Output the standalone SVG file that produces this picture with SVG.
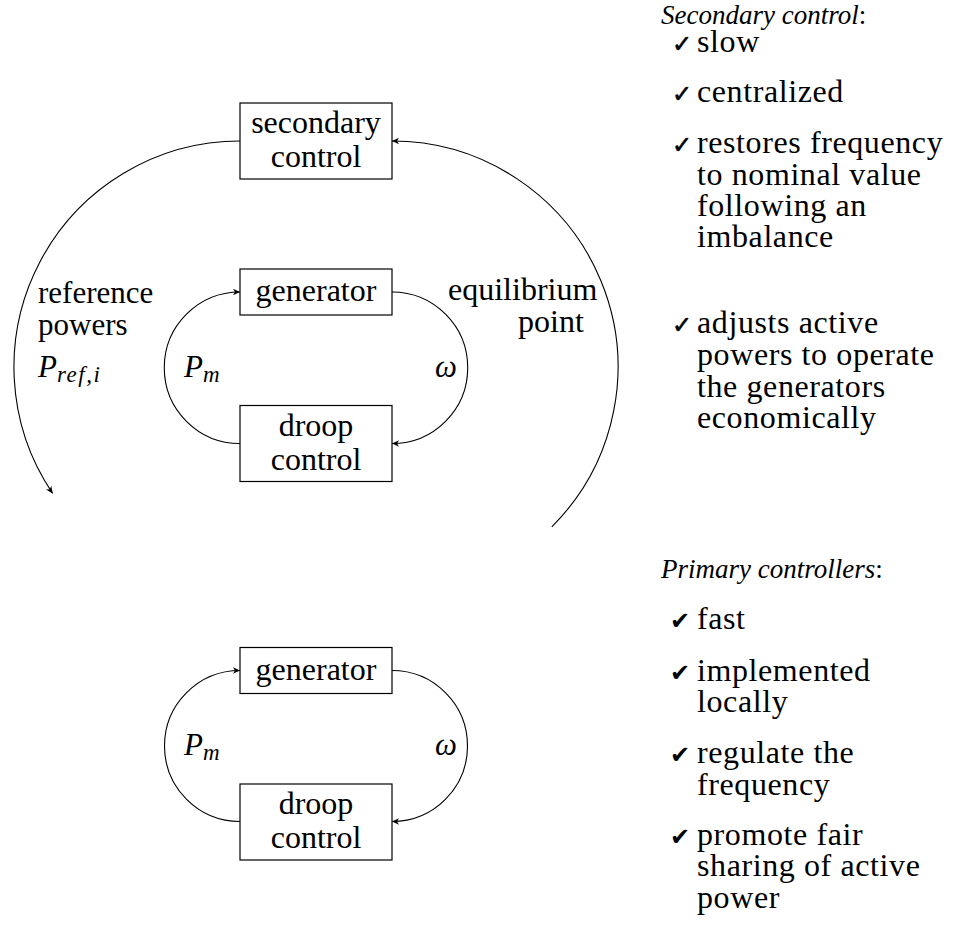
<svg xmlns="http://www.w3.org/2000/svg" width="956" height="926" viewBox="0 0 956 926">
<style>
text{font-family:"Liberation Serif","Times New Roman",serif;fill:#000}
.bx{font-size:32px;text-anchor:middle}
.lb{font-size:31px}
.eq{font-size:32px}
.m{font-size:31px;font-style:italic}
.sub{font-size:23px;font-style:italic}
.li{font-size:32px;letter-spacing:0.6px}
.hd{font-size:27px;font-style:italic}
.ck{font-family:"DejaVu Sans",sans-serif;font-size:24px;stroke:#000;stroke-width:0.6}
.ck2{font-family:"DejaVu Sans",sans-serif;font-size:24px}
rect{fill:#fff;stroke:#000;stroke-width:1.2}
.c{fill:none;stroke:#000;stroke-width:1.1}
</style>
<defs>
<marker id="ah" viewBox="-8 -4 9 8" refX="0" refY="0" markerWidth="9" markerHeight="8" orient="auto" markerUnits="userSpaceOnUse">
<path d="M0,0 L-7,-3.2 L-5,0 L-7,3.2 Z" fill="#000"/>
</marker>
</defs>
<g id="connectors">
<path class="c" d="M240,141 A226,226 0 0 0 52.6,493.4" marker-end="url(#ah)"/>
<path class="c" d="M551.8,526.8 A226,226 0 0 0 392,141" marker-end="url(#ah)"/>
<path class="c" d="M240,443.5 A75.75,75.75 0 0 1 240,292" marker-end="url(#ah)"/>
<path class="c" d="M392,292 A75.75,75.75 0 0 1 392,443.5" marker-end="url(#ah)"/>
<path class="c" d="M240,821.5 A75.5,75.5 0 0 1 240,670.5" marker-end="url(#ah)"/>
<path class="c" d="M392,670.5 A75.5,75.5 0 0 1 392,821.5" marker-end="url(#ah)"/>
</g>
<g id="secondary">
<rect x="240" y="103" width="152" height="76"/>
<text class="bx" x="316" y="133">secondary</text>
<text class="bx" x="316" y="167">control</text>
</g>
<g id="generator1">
<rect x="240" y="269" width="152" height="46"/>
<text class="bx" x="316" y="301">generator</text>
</g>
<g id="droop1">
<rect x="240" y="405.5" width="152" height="76"/>
<text class="bx" x="316" y="435.5">droop</text>
<text class="bx" x="316" y="469.5">control</text>
</g>
<g id="generator2">
<rect x="240" y="647.5" width="152" height="46"/>
<text class="bx" x="316" y="680">generator</text>
</g>
<g id="droop2">
<rect x="240" y="784" width="152" height="76"/>
<text class="bx" x="316" y="814">droop</text>
<text class="bx" x="316" y="848">control</text>
</g>
<g id="labels">
<text class="lb" x="38" y="303">reference</text>
<text class="lb" x="38" y="335">powers</text>
<text class="m" x="38" y="377">P<tspan class="sub" dy="5" letter-spacing="1.5">ref,i</tspan></text>
<text class="eq" x="448" y="300">equilibrium</text>
<text class="eq" x="518" y="332">point</text>
<text class="m" x="184" y="377">P<tspan class="sub" dy="5">m</tspan></text>
<text class="m" x="435" y="377">ω</text>
<text class="m" x="184" y="755">P<tspan class="sub" dy="5">m</tspan></text>
<text class="m" x="435" y="755">ω</text>
</g>
<g id="secondary-list">
<text class="hd" x="661" y="24">Secondary control<tspan font-style="normal">:</tspan></text>
<text class="ck" x="672" y="52">✓</text><text class="li" x="697" y="52">slow</text>
<text class="ck" x="672" y="102">✓</text><text class="li" x="697" y="102">centralized</text>
<text class="ck" x="672" y="153">✓</text><text class="li" x="697" y="153">restores frequency</text>
<text class="li" x="697" y="185">to nominal value</text>
<text class="li" x="697" y="216">following an</text>
<text class="li" x="697" y="247">imbalance</text>
<text class="ck" x="672" y="333">✓</text><text class="li" x="697" y="333">adjusts active</text>
<text class="li" x="697" y="365">powers to operate</text>
<text class="li" x="697" y="397">the generators</text>
<text class="li" x="697" y="428">economically</text>
</g>
<g id="primary-list">
<text class="hd" x="661" y="578">Primary controllers<tspan font-style="normal">:</tspan></text>
<text class="ck2" x="670" y="629">✔</text><text class="li" x="697" y="629">fast</text>
<text class="ck2" x="670" y="681">✔</text><text class="li" x="697" y="681">implemented</text>
<text class="li" x="697" y="712">locally</text>
<text class="ck2" x="670" y="763">✔</text><text class="li" x="697" y="763">regulate the</text>
<text class="li" x="697" y="795">frequency</text>
<text class="ck2" x="670" y="845">✔</text><text class="li" x="697" y="845">promote fair</text>
<text class="li" x="697" y="876">sharing of active</text>
<text class="li" x="697" y="908">power</text>
</g>
</svg>
